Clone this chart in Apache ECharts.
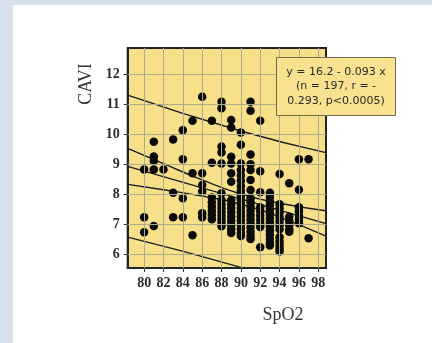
<!DOCTYPE html>
<html><head><meta charset="utf-8">
<script src="https://cdn.jsdelivr.net/npm/echarts@6/dist/echarts.min.js"></script>
<style>
html,body{margin:0;padding:0;width:432px;height:343px;background:#d5e1ed;overflow:hidden}
#panel{position:absolute;left:13px;top:5px;width:419px;height:338px;background:#ffffff}
#chart{position:absolute;left:0;top:0;width:432px;height:343px}
</style></head><body>
<div id="panel"></div>
<div id="chart"></div>
<script>
// SpO2 columns and CAVI values
const spo2Columns = [80, 81, 82, 83, 84, 85, 86, 87, 88, 89, 90, 91, 92, 93, 94, 95, 96, 97];
const caviByColumn = [
  [8.82, 7.22, 6.72],
  [9.74, 9.25, 9.1, 8.82, 6.93],
  [8.82],
  [9.82, 8.04, 7.22],
  [10.13, 9.16, 7.86, 7.22],
  [10.44, 8.69, 6.62],
  [11.24, 8.69, 8.3, 8.08, 7.36, 7.22],
  [10.44, 9.04, 7.88, 7.72, 7.58, 7.44, 7.3, 7.16],
  [11.08, 10.86, 9.58, 9.38, 9.02, 8.02, 7.8, 7.66, 7.52, 7.4, 7.28, 7.16, 7.04, 6.92],
  [10.47, 10.22, 9.24, 9.02, 8.69, 8.41, 7.8, 7.66, 7.52, 7.38, 7.24, 7.1, 6.96, 6.82, 6.7],
  [10.05, 9.64, 9.02, 8.8, 8.62, 8.44, 8.26, 8.1, 7.96, 7.82, 7.68, 7.54, 7.4, 7.26, 7.12, 6.98, 6.84, 6.7, 6.6],
  [11.08, 10.78, 9.32, 8.99, 8.8, 8.47, 8.13, 7.86, 7.72, 7.58, 7.44, 7.3, 7.16, 7.02, 6.88, 6.74, 6.6, 6.5],
  [10.44, 8.76, 8.06, 7.56, 7.42, 7.28, 7.14, 7.0, 6.9, 6.22],
  [8.04, 7.9, 7.76, 7.62, 7.48, 7.34, 7.2, 7.06, 6.92, 6.78, 6.64, 6.5, 6.36, 6.28],
  [8.67, 7.66, 7.52, 7.38, 7.24, 7.1, 6.96, 6.82, 6.56, 6.42, 6.3, 6.18, 6.08],
  [8.36, 7.24, 7.1, 6.96, 6.82, 6.74],
  [9.16, 8.14, 7.56, 7.42, 7.28, 7.14, 7.02],
  [9.16, 6.52]
];
const xTicks = [80, 82, 84, 86, 88, 90, 92, 94, 96, 98];
const yTicks = [6, 7, 8, 9, 10, 11, 12];

// fitted line and bands
const fitX = [78.3, 98.8];
const fitY = [8.92, 7.01];
const ciX = [78.3, 82, 86, 90, 94, 98.8];
const ciUpperY = [9.52, 9.01, 8.47, 8.0, 7.69, 7.44];
const ciLowerY = [8.32, 8.14, 7.93, 7.66, 7.23, 6.59];
const piX = [78.3, 90, 98.8];
const piUpperY = [11.3, 10.1, 9.38];
const piLowerY = [6.56, 5.55, 4.64];

const fitLabel = ['y = 16.2 - 0.093 x', '(n = 197, r = -', '0.293, p<0.0005)'];
const xName = 'SpO2';
const yName = 'CAVI';

const points = [];
spo2Columns.forEach((x, i) => caviByColumn[i].forEach(y => points.push([x, y])));
const zip = (xs, ys) => xs.map((x, i) => [x, ys[i]]);

const ink = '#1c2624';
const lineSeries = (xs, ys, smooth) => ({
  type: 'line', data: zip(xs, ys), symbol: 'none', smooth: smooth, silent: true,
  lineStyle: { color: '#1a1f1e', width: 1.4 }, z: 3
});

const chart = echarts.init(document.getElementById('chart'));
chart.setOption({
  animation: false,
  grid: {
    left: 127.7, right: 106, top: 48, bottom: 75,
    show: true, backgroundColor: '#f8e08b', borderColor: ink, borderWidth: 2,
    outerBoundsMode: 'none'
  },
  xAxis: {
    type: 'value', min: 78.3, max: 98.8,
    axisLine: { show: true, onZero: false, lineStyle: { color: ink, width: 2 } },
    axisTick: { show: true, customValues: xTicks, length: 4, lineStyle: { color: '#333' } },
    axisLabel: { customValues: xTicks, fontFamily: 'Liberation Serif', fontWeight: 'bold', fontSize: 14, color: '#2c2c2c', margin: 8 },
    splitLine: { show: false }
  },
  yAxis: {
    type: 'value', min: 5.53, max: 12.87,
    axisLine: { show: true, onZero: false, lineStyle: { color: ink, width: 2 } },
    axisTick: { show: true, customValues: yTicks, length: 4, lineStyle: { color: '#333' } },
    axisLabel: { customValues: yTicks, fontFamily: 'Liberation Serif', fontWeight: 'bold', fontSize: 14, color: '#2c2c2c', margin: 8 },
    splitLine: { show: false }
  },
  series: [
    {
      type: 'line', data: [], silent: true, z: 1,
      markLine: {
        silent: true, symbol: 'none', animation: false,
        label: { show: false },
        lineStyle: { color: '#a8ad8e', width: 1, type: 'solid' },
        emphasis: { disabled: true },
        data: xTicks.map(v => ({ xAxis: v })).concat(yTicks.map(v => ({ yAxis: v })))
      }
    },
    lineSeries(piX, piUpperY, true),
    lineSeries(piX, piLowerY, true),
    lineSeries(ciX, ciUpperY, true),
    lineSeries(ciX, ciLowerY, true),
    lineSeries(fitX, fitY, false),
    {
      type: 'scatter', data: points, symbol: 'circle', symbolSize: 8.5,
      itemStyle: { color: '#0b0b0b', opacity: 1 }, z: 4
    }
  ],
  graphic: [
    { type: 'text', x: 86, y: 84, rotation: Math.PI / 2,
      style: { text: yName, font: '18px "Liberation Serif"', fill: '#353535', textAlign: 'center', textVerticalAlign: 'middle' } },
    { type: 'text', x: 283, y: 315,
      style: { text: xName, font: '18px "Liberation Serif"', fill: '#353535', textAlign: 'center', textVerticalAlign: 'middle' } },
    { type: 'rect', shape: { x: 276.5, y: 57.5, width: 119, height: 58 }, z: 10,
      style: { fill: '#f8e290', stroke: '#6f6a50', lineWidth: 1 } },
    { type: 'text', x: 336, y: 86.5, z: 11,
      style: { text: fitLabel.join('\n'), font: '11px "DejaVu Sans"', lineHeight: 14.3, fill: '#2a2a2a', textAlign: 'center', textVerticalAlign: 'middle' } }
  ]
});
</script>
</body></html>
